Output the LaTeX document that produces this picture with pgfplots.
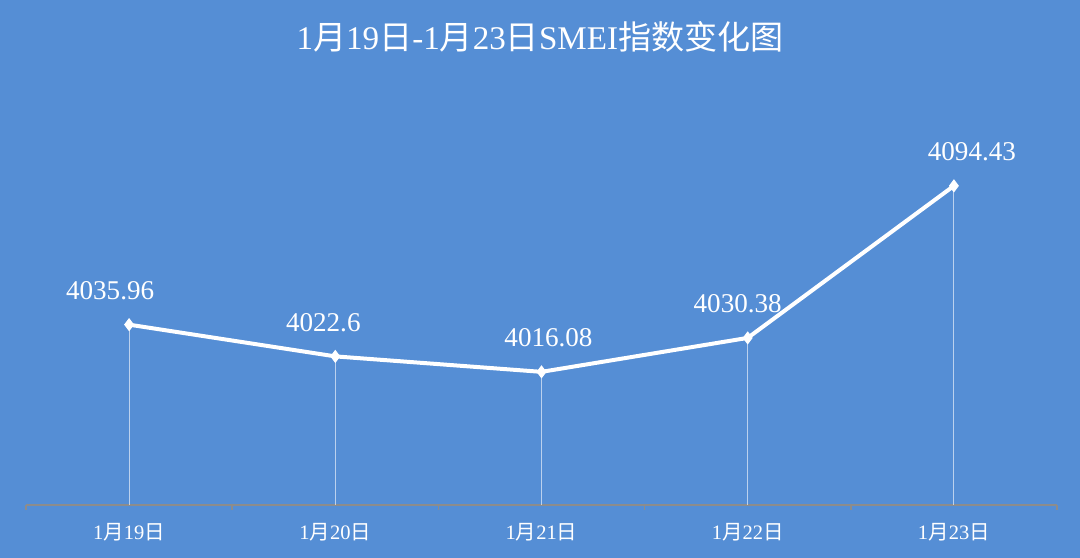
\documentclass[border=0pt]{standalone}
\usepackage{pgfplots}
\pgfplotsset{compat=1.18}
\usepackage{pgfplotstable}
\usepackage{fontspec}
\setmainfont{Liberation Serif}
\newfontfamily\cjk{Noto Sans CJK SC}
\definecolor{bg}{HTML}{558ED5}
\definecolor{axgray}{HTML}{8C8C8C}
\pgfplotstableread{
x y label dx
0 4035.96 4035.96 -9.5
1 4022.6 4022.6 -6
2 4016.08 4016.08 3.5
3 4030.38 4030.38 -5
4 4094.43 4094.43 9
}\smei
\begin{document}
\begin{tikzpicture}
\fill[bg] (0,0) rectangle (540bp,279bp);
\path[use as bounding box] (0,0) rectangle (540bp,279bp);
\node[text=white, font=\fontsize{16.6}{18}\selectfont] at (270bp,260.5bp) {1{\cjk 月}19{\cjk 日}-1{\cjk 月}23{\cjk 日}SMEI{\cjk 指数变化图}};
\begin{axis}[
  at={(13bp,26.5bp)}, anchor=south west,
  scale only axis, width=515.5bp, height=201.8bp,
  xmin=-0.5, xmax=4.5, ymin=3960, ymax=4130,
  axis y line=none, axis x line*=bottom,
  x axis line style={draw=axgray, line width=0.75bp, -},
  xtick={0,1,2,3,4},
  xticklabels={1{\cjk 月}19{\cjk 日},1{\cjk 月}20{\cjk 日},1{\cjk 月}21{\cjk 日},1{\cjk 月}22{\cjk 日},1{\cjk 月}23{\cjk 日}},
  major tick length=0pt,
  minor xtick={-0.5,0.5,1.5,2.5,3.5,4.5},
  minor tick length=2.5bp,
  tick align=outside,
  minor tick style={draw=axgray, line width=0.75bp},
  xticklabel style={text=white, font=\fontsize{10.3}{12}\selectfont, anchor=center, yshift=-13.5bp},
]
\addplot[ycomb, draw=white, draw opacity=0.6, line width=0.5bp, mark=none] table[x=x, y=y] {\smei};
\addplot[white, line width=2bp, mark=diamond*, mark size=2.9bp,
  mark options={fill=white, line width=0.5bp}] table[x=x, y=y] {\smei};
\addplot[draw=none, mark=none,
  point meta=explicit symbolic,
  nodes near coords,
  every node near coord/.append style={anchor=center, yshift=17bp, text=white, font=\fontsize{13.6}{15}\selectfont},
] table[x expr=\thisrow{x}+\thisrow{dx}/103.1, y=y, meta=label] {\smei};
\end{axis}
\end{tikzpicture}
\end{document}
